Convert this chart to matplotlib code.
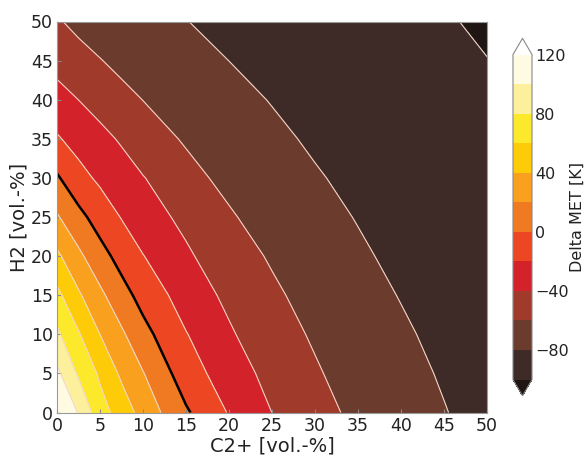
import numpy as np
import matplotlib
matplotlib.use('Agg')
import matplotlib.pyplot as plt

# ---- data ----
c2_plus = [0, 2.5, 5, 7.5, 10, 15, 20, 25, 30, 35, 40, 45, 50]      # vol.-%
h2 = [0, 5, 10, 15, 20, 25, 30, 35, 40, 45, 50]                      # vol.-%
# Delta MET [K]; one row per H2 value, columns follow c2_plus
dmet_h00 = [118.0, 99.0, 68.0, 51.4, 32.4, 2.5, -21.3, -40.1, -54.15, -63.9, -74.9, -79.5, -84.2]
dmet_h05 = [104.4, 77.3, 56.9, 36.4, 20.9, -10.4, -30.3, -46.0, -58.1, -67.7, -76.5, -81.1, -85.8]
dmet_h10 = [83.6, 61.8, 39.9, 23.1, 6.2, -19.1, -37.6, -52.5, -62.1, -71.65, -78.3, -83.0, -87.6]
dmet_h15 = [65.0, 42.7, 24.2, 7.3, -6.7, -29.2, -44.2, -56.9, -66.5, -75.9, -80.5, -85.1, -89.7]
dmet_h20 = [43.9, 24.2, 7.2, -7.0, -19.4, -37.0, -51.9, -61.9, -71.5, -78.2, -82.8, -87.4, -92.0]
dmet_h25 = [22.0, 5.7, -8.65, -20.9, -31.0, -44.8, -58.1, -67.6, -76.1, -80.6, -85.2, -89.7, -94.3]
dmet_h30 = [2.3, -13.5, -23.6, -31.7, -39.1, -54.9, -64.4, -74.3, -78.8, -83.3, -87.8, -92.2, -94.8]
dmet_h35 = [-18.0, -27.2, -34.7, -42.1, -52.3, -61.7, -71.2, -77.2, -81.9, -86.6, -91.1, -93.7, -96.4]
dmet_h40 = [-32.9, -40.1, -47.2, -55.6, -60.2, -69.3, -76.0, -80.6, -85.2, -89.8, -92.6, -95.3, -98.1]
dmet_h45 = [-46.5, -53.5, -59.4, -63.9, -67.5, -75.6, -80.05, -84.5, -88.9, -92.4, -94.3, -97.0, -99.8]
dmet_h50 = [-58.2, -64.7, -68.0, -72.0, -75.4, -79.7, -84.1, -88.4, -91.8, -93.5, -96.3, -99.0, -101.8]

levels = list(range(-100, 121, 20))
cbar_ticks = [-80, -40, 0, 40, 80, 120]
x_ticks = list(range(0, 51, 5))
y_ticks = list(range(0, 51, 5))

# ---- styling ----
band_colors = ['#1f1512',  # under
               '#3e2b27', '#6b3b2e', '#a03a2b', '#d4222b', '#ec4623',
               '#f07a22', '#f9a11f', '#fdcb08', '#fde92c', '#fdf09c', '#fffbe3',
               '#ffffff']  # over

Z = np.array([dmet_h00, dmet_h05, dmet_h10, dmet_h15, dmet_h20, dmet_h25,
              dmet_h30, dmet_h35, dmet_h40, dmet_h45, dmet_h50])
X, Y = np.meshgrid(c2_plus, h2)

fig = plt.figure(figsize=(5.87, 4.59), dpi=100)
ax = fig.add_axes([57 / 587, 1 - 412.5 / 459, 430 / 587, 391 / 459])
cax = fig.add_axes([513 / 587, 1 - 395.8 / 459, 19 / 587, 357.5 / 459])

cs = ax.contourf(X, Y, Z, levels=levels, colors=band_colors, extend='both')
ax.contour(X, Y, Z, levels=[l for l in levels if l != 0], colors='#f2d6c8',
           linewidths=0.8, linestyles='solid')
ax.contour(X, Y, Z, levels=[0], colors='black', linewidths=1.8,
           linestyles='solid')

ax.set_xlim(0, 50)
ax.set_ylim(0, 50)
ax.set_xticks(x_ticks)
ax.set_yticks(y_ticks)
ax.tick_params(direction='in', length=3, color='#888888', labelsize=12.5,
               labelcolor='#222222', pad=3)
for s in ax.spines.values():
    s.set_color('#999999')
    s.set_linewidth(0.8)
ax.set_xlabel('C2+ [vol.-%]', fontsize=14, color='#222222', labelpad=1)
ax.set_ylabel('H2 [vol.-%]', fontsize=14, color='#222222', labelpad=2)

cb = fig.colorbar(cs, cax=cax, ticks=cbar_ticks)
cb.outline.set_edgecolor('#888888')
cb.outline.set_linewidth(0.8)
cax.tick_params(length=0, labelsize=11.5, labelcolor='#222222', pad=2)
cb.set_label('Delta MET [K]', fontsize=11.5, color='#222222', labelpad=1)

fig.savefig('out.png', dpi=100, facecolor='white')
